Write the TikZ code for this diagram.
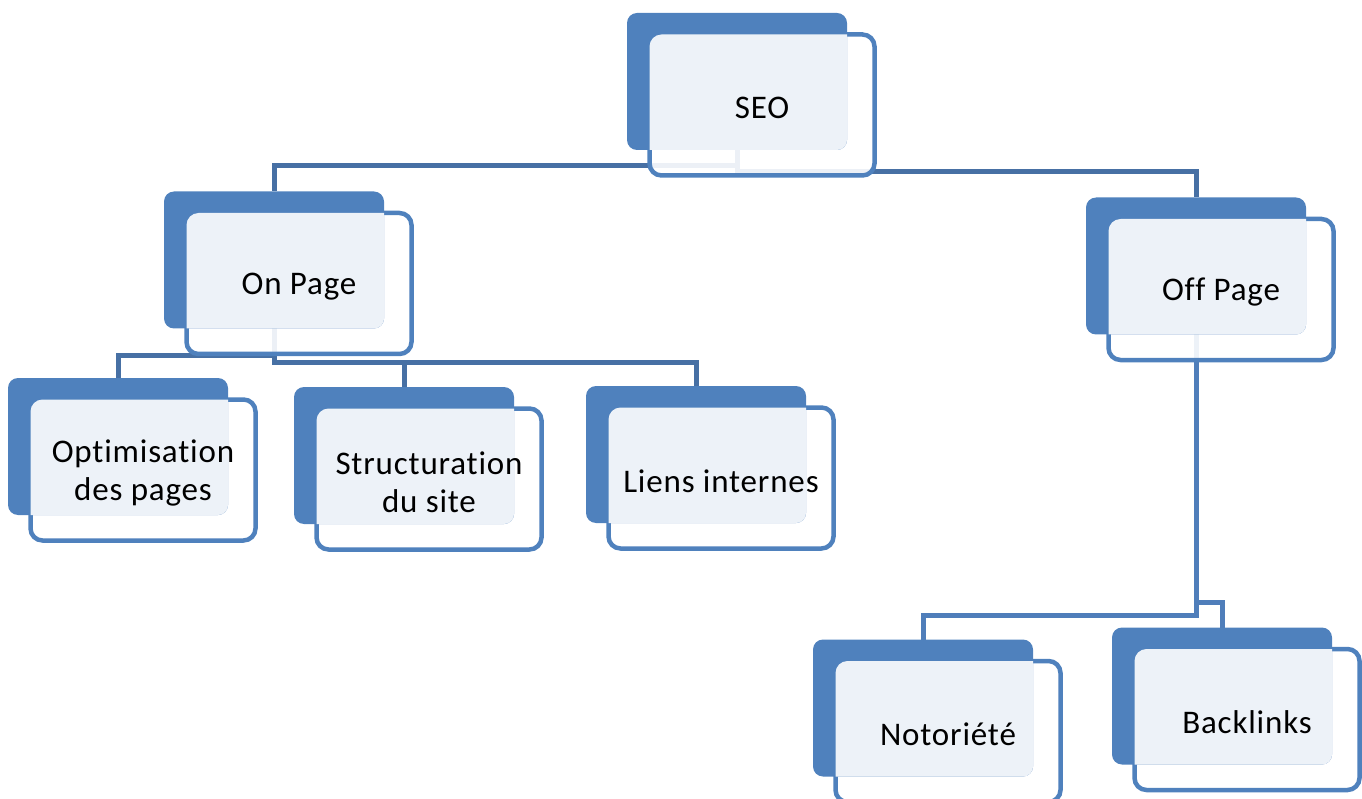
\documentclass[tikz,border=0pt]{standalone}
\usepackage{fontspec}
\setmainfont{Carlito}[Ligatures={NoCommon}, LetterSpace=2.5]
\usetikzlibrary{calc}
\pgfdeclarelayer{lzero}
\pgfdeclarelayer{lone}
\pgfdeclarelayer{ltwo}
\pgfdeclarelayer{lthree}
\pgfsetlayers{lzero,lone,ltwo,lthree,main}
\definecolor{accent}{HTML}{4F81BD}
\definecolor{connA}{HTML}{4770A4}
\definecolor{connB}{HTML}{4F7EBA}
\tikzset{
  backshape/.style={rectangle, minimum width=220pt, minimum height=137pt, inner sep=0pt, outer sep=0pt},
  frontshape/.style={rectangle, minimum width=225pt, minimum height=141pt, inner sep=0pt, outer sep=0pt},
  labeltext/.style={align=center, inner sep=0pt, font=\fontsize{33}{38}\selectfont, text=black},
  frontstyle/.style={fill=white, fill opacity=0.9, draw=accent, draw opacity=1, line width=4.5pt, rounded corners=12pt},
  backstyle/.style={fill=accent, rounded corners=10pt},
  conn/.style={draw=connA, line width=5pt},
  conntwo/.style={draw=connB, line width=5pt},
}
\newcommand\cardpair[3]{%
  \node[backshape] (#1B) at (#2) {};
  \node[frontshape] (#1) at ($(#1B)+(25,23.5)$) {};
  \node[labeltext] (#1T) at ($(#1)+(0,3)$) {#3};
  \begin{pgfonlayer}{lone}
    \path[frontstyle] (#1.north west) rectangle (#1.south east);
  \end{pgfonlayer}
  \begin{pgfonlayer}{ltwo}
    \path[backstyle] (#1B.north west) rectangle (#1B.south east);
  \end{pgfonlayer}
  \begin{pgfonlayer}{lthree}
    \begin{scope}
      \clip[rounded corners=10pt] (#1B.north west) rectangle (#1B.south east);
      \path[fill=white, fill opacity=0.9, rounded corners=12pt] (#1.north west) rectangle (#1.south east);
    \end{scope}
  \end{pgfonlayer}
}
\begin{document}
\begin{tikzpicture}[x=1pt, y=-1pt]
\useasboundingbox (0,0) rectangle (1362,799);
\cardpair{seo}{737,81.5}{SEO}
\cardpair{onpage}{274,260}{On Page}
\cardpair{offpage}{1196,266}{Off Page}
\cardpair{opt}{118,446.5}{Optimisation\\des pages}
\cardpair{struct}{404,455.5}{Structuration\\du site}
\cardpair{liens}{696,454.5}{Liens internes}
\cardpair{noto}{923,708}{Notoriété}
\cardpair{backl}{1222,696}{Backlinks}
\begin{pgfonlayer}{lzero}
  \draw[conn] (seoB.south) -- ++(0,16) -| (onpageB.north);
  \draw[conn] (seoB.south) -- ++(0,22) -| (offpageB.north);
  \draw[conn] (onpageB.south) -- ++(0,27) -| (optB.north);
  \draw[conn] (onpageB.south) -- ++(0,34) -| (structB.north);
  \draw[conn] (onpageB.south) -- ++(0,34) -| (liensB.north);
  \draw[conntwo] (offpageB.south) -- ++(0,281) -| (notoB.north);
  \draw[conntwo] (offpageB.south) -- ++(0,268) -| (backlB.north);
\end{pgfonlayer}
\end{tikzpicture}
\end{document}
